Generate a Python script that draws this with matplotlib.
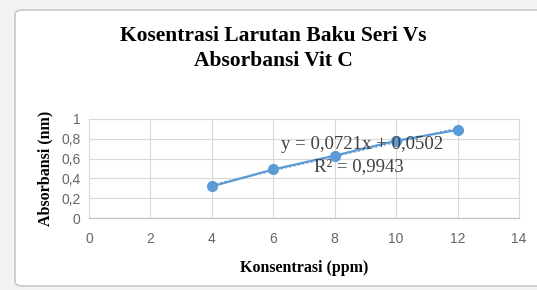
import numpy as np
import matplotlib.pyplot as plt
from matplotlib.patches import FancyBboxPatch

# data
konsentrasi = [4, 6, 8, 10, 12]
absorbansi = [0.32, 0.49, 0.63, 0.78, 0.89]
x_ticks = [0, 2, 4, 6, 8, 10, 12, 14]
y_ticks = [0, 0.2, 0.4, 0.6, 0.8, 1]
y_labels = ['0', '0,2', '0,4', '0,6', '0,8', '1']
persamaan = 'y = 0,0721x + 0,0502'
r_kuadrat = 'R² = 0,9943'

fig = plt.figure(figsize=(5.37, 2.90), dpi=100)
fig.patch.set_facecolor('#f3f3f3')

# white chart area with rounded border
box = FancyBboxPatch((15 / 537, 4 / 290), 530 / 537, 276 / 290,
                     boxstyle='round,pad=0,rounding_size=0.015',
                     transform=fig.transFigure, facecolor='white',
                     edgecolor='#c8c8c8', linewidth=1.2, zorder=-1)
fig.patches.append(box)

ax = fig.add_axes([89 / 537, 72 / 290, 430 / 537, 99 / 290])
ax.set_facecolor('none')

# trendline (linear fit)
a, b = np.polyfit(konsentrasi, absorbansi, 1)
xs = np.array([konsentrasi[0], konsentrasi[-1]])
ax.plot(xs, a * xs + b, color='#5b9bd5', linestyle=':', linewidth=1.2, zorder=2)
ax.plot(konsentrasi, absorbansi, color='#5b9bd5', marker='o', markersize=7,
        linewidth=1.6, zorder=3)

ax.set_xlim(0, 14)
ax.set_ylim(0, 1)
ax.set_xticks(x_ticks)
ax.set_yticks(y_ticks)
ax.set_yticklabels(y_labels)
ax.grid(True, color='#d9d9d9', linewidth=0.8)
ax.set_axisbelow(True)
for s in ax.spines.values():
    s.set_color('#d9d9d9')
    s.set_linewidth(0.8)
ax.spines['bottom'].set_color('#bfbfbf')
ax.tick_params(length=0, labelsize=10, labelcolor='#666666')
ax.tick_params(axis='x', pad=10)
ax.tick_params(axis='y', pad=6)
for lab in ax.get_xticklabels() + ax.get_yticklabels():
    lab.set_fontfamily('Liberation Sans')

serif = 'Liberation Serif'
ax.set_xlabel('Konsentrasi (ppm)', fontfamily=serif, fontweight='bold',
              fontsize=11.5, labelpad=10)
ax.set_ylabel('Absorbansi (nm)', fontfamily=serif, fontweight='bold',
              fontsize=11.5, labelpad=6)

ax.text(8.9, 0.74, persamaan, fontfamily=serif, fontsize=13.5, color='#404040',
        ha='center', va='center')
ax.text(8.8, 0.52, r_kuadrat, fontfamily=serif, fontsize=13.5, color='#404040',
        ha='center', va='center')

fig.text(273 / 537, 1 - 36 / 290, 'Kosentrasi Larutan Baku Seri Vs',
         fontfamily=serif, fontweight='bold', fontsize=15.5, ha='center', va='center')
fig.text(273 / 537, 1 - 61 / 290, 'Absorbansi Vit C',
         fontfamily=serif, fontweight='bold', fontsize=15.5, ha='center', va='center')

fig.savefig('out.png', dpi=100, facecolor=fig.get_facecolor())
